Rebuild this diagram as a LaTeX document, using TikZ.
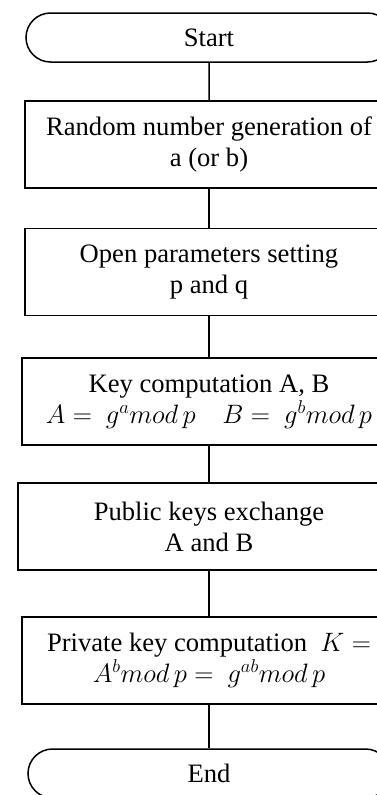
\RequirePackage{fix-cm}
\documentclass[tikz,border=0pt]{standalone}
\usepackage{fontspec}
\setmainfont{Liberation Serif}
\usetikzlibrary{shapes.misc}

\begin{document}
\begin{tikzpicture}[x=1pt,y=1pt,
  every node/.style={font=\fontsize{26.6}{31}\selectfont},
  terminal/.style={draw,line width=1.5pt,rounded rectangle,minimum width=366,minimum height=49,inner sep=0pt},
  process/.style={draw,line width=1.5pt,rectangle,minimum height=87,inner sep=0pt,align=center},
  link/.style={line width=1.5pt}]
  \useasboundingbox (0,0) rectangle (377,-795);
  \clip (0,0) rectangle (377,-795);

  \draw (209,-37.5)  node (start) [terminal] {Start};

  \draw (209,-144.5) node (rand)  [process,minimum width=368] {Random number generation of\\a (or b)};
  \draw[link] (start) -- (rand);

  \draw (209,-272)   node (param) [process,minimum width=368] {Open parameters setting\\p and q};
  \draw[link] (rand) -- (param);

  \draw (209,-401.5) node (keys)  [process,minimum width=374] {Key computation A, B\\$A =\ g^{a}mod\,p\quad B =\ g^{b}mod\,p$};
  \draw[link] (param) -- (keys);

  \draw (209,-526.5) node (swap)  [process,minimum width=382] {Public keys exchange\\A and B};
  \draw[link] (keys) -- (swap);

  \draw (209,-660.5) node (priv)  [process,minimum width=374] {Private key computation \ $K =$\\$A^{b}mod\,p =\ g^{ab}mod\,p$};
  \draw[link] (swap) -- (priv);

  \draw (209,-773.5) node (stop)  [terminal,minimum width=362] {End};
  \draw[link] (priv) -- (stop);
\end{tikzpicture}
\end{document}
